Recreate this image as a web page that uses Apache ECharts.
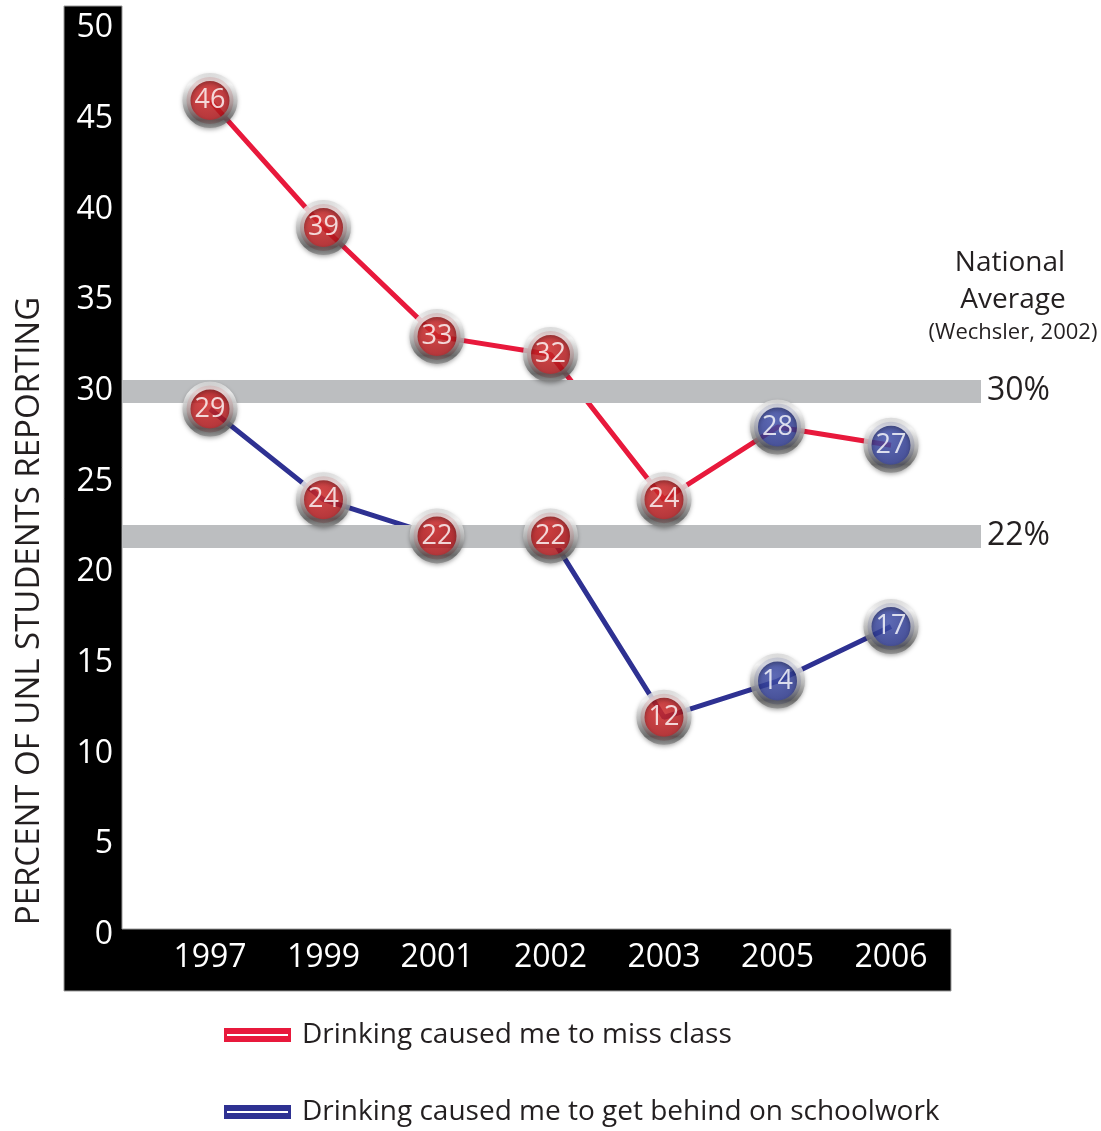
<!DOCTYPE html>
<html>
<head>
<meta charset="utf-8">
<script src="https://cdn.jsdelivr.net/npm/echarts@6/dist/echarts.min.js"></script>
<style>
html,body{margin:0;padding:0;background:#fff;}
#chart{width:1101px;height:1131px;}
</style>
</head>
<body>
<div id="chart"></div>
<script>
const years = ['1997', '1999', '2001', '2002', '2003', '2005', '2006'];
const missClass = [46, 39, 33, 32, 24, 28, 27];
const behindSchoolwork = [29, 24, 22, 22, 12, 14, 17];
const nationalAverages = [30, 22];
const blueMarkerYears = ['2005', '2006'];
const seriesNames = ['Drinking caused me to miss class', 'Drinking caused me to get behind on schoolwork'];

const FONT = 'Open Sans';
const RED = '#e8193c';
const BLUE = '#2e3192';

const chart = echarts.init(document.getElementById('chart'), null, {renderer: 'canvas'});

function fillFor(i) {
  const blue = blueMarkerYears.indexOf(years[i]) >= 0;
  return new echarts.graphic.RadialGradient(0.45, 0.4, 0.65, blue ? [
    {offset: 0, color: '#4656b4'}, {offset: 0.7, color: '#2b3790'}, {offset: 1, color: '#1a1f60'}
  ] : [
    {offset: 0, color: '#dc2c2c'}, {offset: 0.7, color: '#b3161b'}, {offset: 1, color: '#740909'}
  ]);
}
const ringColor = new echarts.graphic.LinearGradient(0, 0, 0, 1, [
  {offset: 0, color: '#d6d6d6'}, {offset: 0.2, color: '#f8f8f8'},
  {offset: 0.55, color: '#b5b5b5'}, {offset: 0.85, color: '#5a5a5a'}, {offset: 1, color: '#8c8c8c'}
]);

function markerSeries(values, name) {
  return {
    type: 'scatter', name: name + ' markers', xAxisIndex: 1, yAxisIndex: 1, z: 5,
    symbol: 'circle', symbolSize: 47,
    data: values.map((v, i) => ({value: v, itemStyle: {color: fillFor(i)}})),
    itemStyle: {
      borderColor: ringColor, borderWidth: 8,
      shadowBlur: 4, shadowColor: 'rgba(0,0,0,0.35)', shadowOffsetY: 2
    },
    label: {
      show: true, position: 'inside', color: '#fff', fontSize: 27, fontFamily: FONT,
      formatter: p => Array.isArray(p.value) ? p.value[1] : p.value
    },
    emphasis: {disabled: true}, silent: true
  };
}

const legendBase = {
  left: 224, orient: 'horizontal', selectedMode: false, padding: 0,
  icon: 'path://M0,0H67V14H0Z M3,6V8H64V6Z', itemWidth: 67, itemHeight: 14,
  textStyle: {fontSize: 28, fontFamily: FONT, color: '#231f20', padding: [0, 0, 0, 6], lineHeight: 32}
};

const option = {
  animation: false,
  textStyle: {fontFamily: FONT},
  graphic: [
    {type: 'polygon', z: -10,
      shape: {points: [[64, 6], [122, 6], [122, 929], [951, 929], [951, 991], [64, 991]]},
      style: {fill: '#000', stroke: '#9a9a9a', lineWidth: 1}},
    {type: 'text', x: 30, y: 611, rotation: Math.PI / 2,
      style: {text: 'PERCENT OF UNL STUDENTS REPORTING', fontSize: 33, fontFamily: FONT, fill: '#231f20', align: 'center', verticalAlign: 'middle'}},
    {type: 'text', x: 1010, y: 263,
      style: {text: 'National', fontSize: 28, fontFamily: FONT, fill: '#231f20', align: 'center', verticalAlign: 'middle'}},
    {type: 'text', x: 1013, y: 300,
      style: {text: 'Average', fontSize: 28, fontFamily: FONT, fill: '#231f20', align: 'center', verticalAlign: 'middle'}},
    {type: 'text', x: 1013, y: 333,
      style: {text: '(Wechsler, 2002)', fontSize: 22, fontFamily: FONT, fill: '#231f20', align: 'center', verticalAlign: 'middle'}}
  ],
  grid: [
    {left: 122, right: 120, top: 28, bottom: 196},
    {left: 210, right: 210, top: 28, bottom: 196}
  ],
  xAxis: [
    {type: 'value', gridIndex: 0, min: 0, max: 1, show: false},
    {type: 'category', gridIndex: 1, data: years, boundaryGap: false, z: 5,
      axisLine: {show: false}, axisTick: {show: false}, splitLine: {show: false},
      axisLabel: {color: '#fff', fontSize: 32, fontFamily: FONT, margin: 7}}
  ],
  yAxis: [
    {type: 'value', gridIndex: 0, min: 0, max: 50, interval: 5, z: 5,
      axisLine: {show: false}, axisTick: {show: false}, splitLine: {show: false},
      axisLabel: {color: '#fff', fontSize: 32, fontFamily: FONT, margin: 9}},
    {type: 'value', gridIndex: 1, min: 0, max: 50, interval: 5, show: false}
  ],
  legend: [
    Object.assign({}, legendBase, {data: [seriesNames[0]], top: 1019}),
    Object.assign({}, legendBase, {data: [seriesNames[1]], top: 1096})
  ],
  series: [
    {type: 'line', name: 'bands', xAxisIndex: 0, yAxisIndex: 0, data: [], z: 1, silent: true,
      markLine: {
        silent: true, symbol: 'none', animation: false,
        lineStyle: {color: '#bcbec0', width: 23, type: 'solid', opacity: 1},
        label: {show: true, position: 'end', distance: 6, formatter: p => p.value + '%',
          fontSize: 32, fontFamily: FONT, color: '#231f20'},
        emphasis: {disabled: true},
        data: nationalAverages.map(v => ({yAxis: v}))
      }},
    {type: 'line', name: seriesNames[0], xAxisIndex: 1, yAxisIndex: 1, data: missClass, z: 3,
      showSymbol: false, color: RED, lineStyle: {color: RED, width: 5}, emphasis: {disabled: true}},
    {type: 'line', name: seriesNames[1], xAxisIndex: 1, yAxisIndex: 1, data: behindSchoolwork, z: 3,
      showSymbol: false, color: BLUE, lineStyle: {color: BLUE, width: 5}, emphasis: {disabled: true}},
    markerSeries(missClass, seriesNames[0]),
    markerSeries(behindSchoolwork, seriesNames[1])
  ]
};
chart.setOption(option);
</script>
</body>
</html>
